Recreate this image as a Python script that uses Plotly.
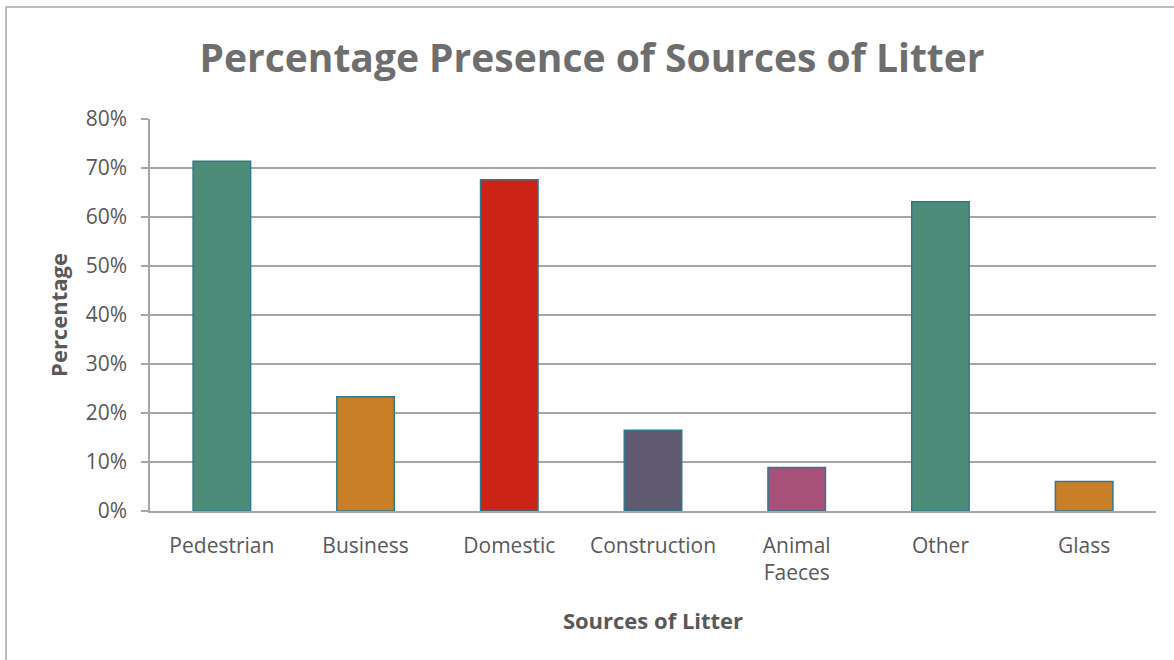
import plotly.graph_objects as go

categories = ["Pedestrian", "Business", "Domestic", "Construction", "Animal<br>Faeces", "Other", "Glass"]
values = [71.4, 23.3, 67.6, 16.5, 8.9, 63.1, 6.0]
bar_colors = ["#4C8C78", "#C87F28", "#CC2316", "#5F5A70", "#A8507A", "#4C8C78", "#C87F28"]
y_tickvals = [0, 10, 20, 30, 40, 50, 60, 70, 80]
y_ticktext = ["0%", "10%", "20%", "30%", "40%", "50%", "60%", "70%", "80%"]

FONT = "Open Sans"
GREY = "#595959"

fig = go.Figure(go.Bar(
    x=categories,
    y=values,
    marker=dict(color=bar_colors, line=dict(color="#2E7A8A", width=1.5)),
    width=0.4,
    hoverinfo="x+y",
))

fig.update_layout(
    width=1174, height=660,
    margin=dict(l=150, r=18, t=119, b=149),
    paper_bgcolor="white", plot_bgcolor="white",
    showlegend=False,
    title=dict(
        text="<b>Percentage Presence of Sources of Litter</b>",
        font=dict(family=FONT, size=39, color="#6E6E6E"),
        x=592 / 1174, xanchor="center", xref="container",
        y=1 - 58 / 660, yref="container", yanchor="middle",
    ),
    font=dict(family=FONT, color=GREY),
    shapes=[dict(
        type="rect", xref="paper", yref="paper",
        x0=-0.1431, x1=1.2, y0=-0.6, y1=1.2857,
        line=dict(color="#A6A6A6", width=1.5), layer="below",
    )],
)

fig.update_yaxes(
    range=[0, 80],
    tickvals=y_tickvals, ticktext=y_ticktext,
    tickfont=dict(family=FONT, size=21, color=GREY),
    showgrid=True, gridcolor="#A6A6A6", gridwidth=1.5,
    showline=True, linecolor="#A6A6A6", linewidth=1.5,
    ticks="outside", ticklen=7, tickcolor="#A6A6A6", tickwidth=1.5,
    ticklabelstandoff=10,
    zeroline=False,
    title=dict(text="<b>Percentage</b>", font=dict(family=FONT, size=22, color=GREY), standoff=12),
)

fig.update_xaxes(
    tickfont=dict(family=FONT, size=21, color=GREY),
    showline=True, linecolor="#A6A6A6", linewidth=1.5,
    showgrid=False, ticks="",
    ticklabelstandoff=15,
    title=dict(text="<b>Sources of Litter</b>", font=dict(family=FONT, size=22, color=GREY), standoff=28),
)

fig.write_html("out.html", config={"displayModeBar": False},
               post_script="document.body.style.margin='0';")
